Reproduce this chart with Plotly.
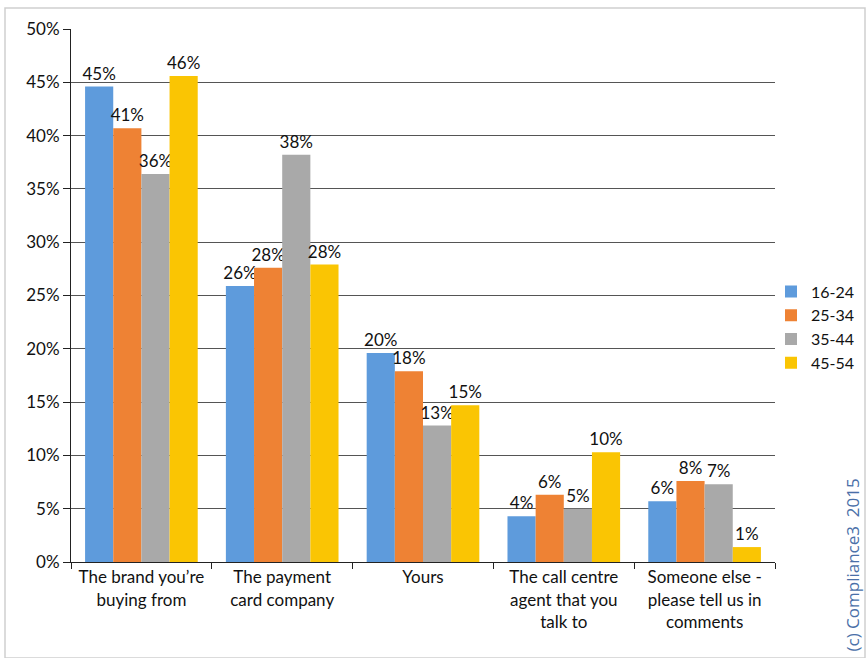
import plotly.graph_objects as go

categories = ["The brand you’re<br>buying from", "The payment<br>card company", "Yours",
              "The call centre<br>agent that you<br>talk to", "Someone else -<br>please tell us in<br>comments"]
series_names = ["16-24", "25-34", "35-44", "45-54"]
v_16_24 = [0.446, 0.259, 0.196, 0.043, 0.057]
v_25_34 = [0.407, 0.276, 0.179, 0.063, 0.076]
v_35_44 = [0.364, 0.382, 0.128, 0.050, 0.073]
v_45_54 = [0.456, 0.279, 0.147, 0.103, 0.014]
colors = ["#5E9BDC", "#EE8234", "#A9A9A9", "#FAC503"]
y_ticks = [0, 0.05, 0.10, 0.15, 0.20, 0.25, 0.30, 0.35, 0.40, 0.45, 0.50]

FONT = "Lato, 'Open Sans', sans-serif"
fig = go.Figure()
for name, vals, col in zip(series_names, [v_16_24, v_25_34, v_35_44, v_45_54], colors):
    fig.add_trace(go.Bar(
        x=categories, y=vals, name=name, marker=dict(color=col, line=dict(width=0)),
        text=[f"{round(v*100):d}%" for v in vals], textposition="outside",
        constraintext="none",
        textfont=dict(size=17, color="#111111", family=FONT), cliponaxis=False,
    ))

fig.update_layout(
    width=868, height=658, barmode="group", bargap=0.2, bargroupgap=0,
    margin=dict(l=71, r=93, t=29, b=96, autoexpand=False),
    plot_bgcolor="white", paper_bgcolor="white",
    font=dict(family=FONT, size=17, color="#111111"),
    legend=dict(x=(771-71)/704, y=0.44, xanchor="left", yanchor="middle", traceorder="normal",
                font=dict(size=16), itemwidth=30, tracegroupgap=0,
                bgcolor="rgba(0,0,0,0)"),
    xaxis=dict(showline=True, linecolor="#222222", linewidth=1, ticks="outside",
               tickson="boundaries", ticklen=6, tickcolor="#222222", tickangle=0,
               tickfont=dict(size=17)),
    yaxis=dict(range=[0, 0.5], tickvals=y_ticks, tickformat=".0%", showline=True,
               linecolor="#222222", linewidth=1, ticks="outside", ticklen=7,
               tickcolor="#222222", showgrid=True, gridcolor="#555555", gridwidth=1,
               tickfont=dict(size=17), zeroline=False),
    shapes=[dict(type="rect", xref="paper", yref="paper", x0=-66/704, x1=1+90/704,
                 y0=-96/533, y1=1+21/533, line=dict(color="#cfcfcf", width=1.5),
                 fillcolor="rgba(0,0,0,0)", layer="below")],
    annotations=[dict(text="(c) Compliance3  2015", xref="paper", yref="paper",
                      x=(852-71)/704, y=-92/533, xanchor="center", yanchor="bottom",
                      textangle=-90, showarrow=False,
                      font=dict(size=17, color="#4A6FA8", family="'Open Sans', sans-serif"))],
)
fig.write_html("out.html")
